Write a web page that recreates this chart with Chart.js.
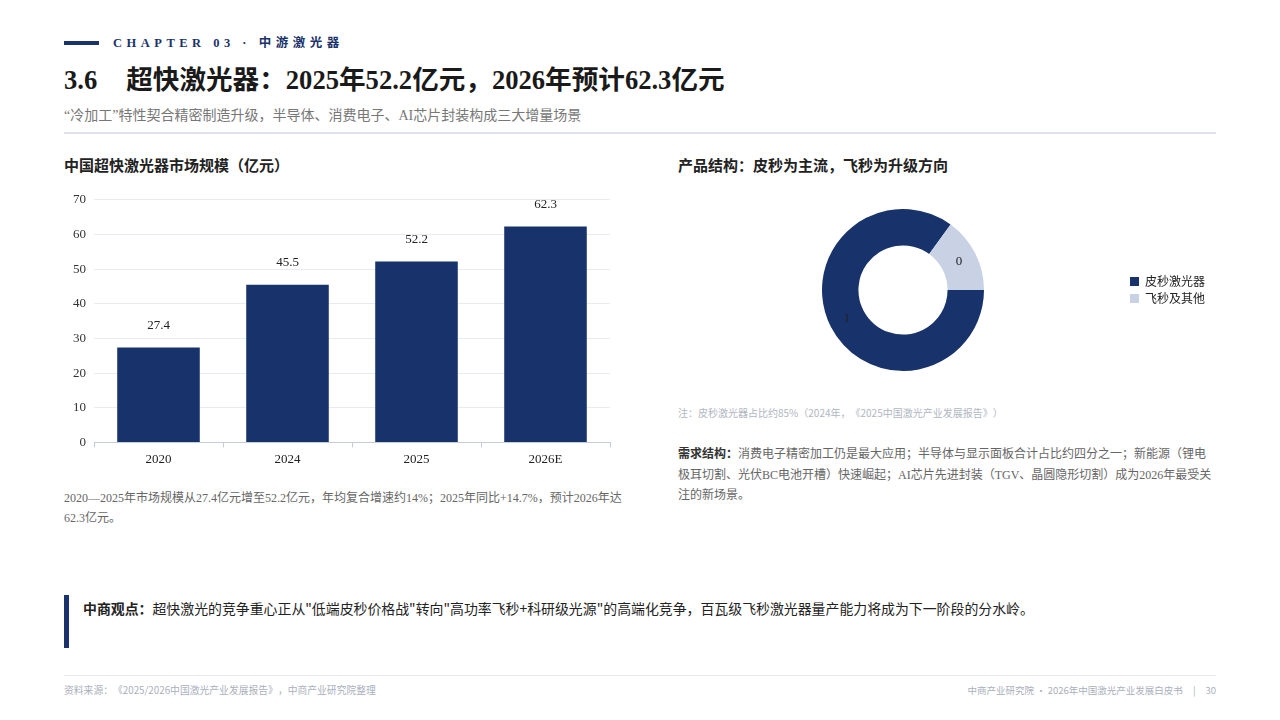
<!DOCTYPE html>
<html><head><meta charset="utf-8">
<script src="https://cdn.jsdelivr.net/npm/chart.js@4.4.1/dist/chart.umd.min.js"></script>
<style>
html,body{margin:0;padding:0;background:#fff;}
body{width:1280px;height:720px;position:relative;overflow:hidden;font-family:"Liberation Serif","Noto Sans CJK SC",serif;color:#222;text-spacing-trim:space-all;}
.abs{position:absolute;white-space:nowrap;}
.sans{font-family:"Noto Sans CJK SC","Noto Sans",sans-serif;}
</style></head><body>
<div class="abs" style="left:64px;top:41px;width:35px;height:4px;background:#1a336b;"></div>
<div class="abs" style="left:113px;top:34px;font-size:12.5px;font-weight:bold;color:#1a336b;letter-spacing:4.5px;line-height:18px;">CHAPTER 03 · 中游激光器</div>
<div class="abs" style="left:64px;top:63px;font-size:26.6px;font-weight:bold;color:#1a1a1a;line-height:34px;">3.6<span style="display:inline-block;width:29px"></span>超快激光器：2025年52.2亿元，2026年预计62.3亿元</div>
<div class="abs" style="left:64px;top:106px;font-size:14px;color:#777;line-height:20px;">“冷加工”特性契合精密制造升级，半导体、消费电子、AI芯片封装构成三大增量场景</div>
<div class="abs" style="left:64px;top:132px;width:1152px;height:2px;background:#dde1ea;"></div>

<div class="abs sans" style="left:64px;top:155px;font-size:15px;font-weight:bold;color:#222;line-height:20px;">中国超快激光器市场规模（亿元）</div>
<div class="abs sans" style="left:678px;top:155px;font-size:15px;font-weight:bold;color:#222;line-height:20px;">产品结构：皮秒为主流，飞秒为升级方向</div>

<div class="abs" style="left:64px;top:184px;width:550px;height:287px;"><canvas id="bar"></canvas></div>
<div class="abs" style="left:681px;top:209px;width:534px;height:162px;"><canvas id="pie"></canvas></div>

<div class="abs" style="left:64px;top:488px;font-size:12px;color:#666;line-height:20px;">2020—2025年市场规模从27.4亿元增至52.2亿元，年均复合增速约14%；2025年同比+14.7%，预计2026年达<br>62.3亿元。</div>

<div class="abs sans" style="left:678px;top:406px;font-size:10px;color:#b0b6c2;line-height:14px;">注：皮秒激光器占比约85%（2024年，《2025中国激光产业发展报告》）</div>
<div class="abs" style="left:678px;top:443px;font-size:12px;color:#666;line-height:20.5px;"><b style="color:#333" class="sans">需求结构：</b>消费电子精密加工仍是最大应用；半导体与显示面板合计占比约四分之一；新能源（锂电<br>极耳切割、光伏BC电池开槽）快速崛起；AI芯片先进封装（TGV、晶圆隐形切割）成为2026年最受关<br>注的新场景。</div>

<div class="abs" style="left:64px;top:595px;width:5px;height:53px;background:#1a336b;"></div>
<div class="abs sans" style="left:83px;top:598px;font-size:13.9px;color:#222;line-height:20px;"><b>中商观点：</b>超快激光的竞争重心正从"低端皮秒价格战"转向"高功率飞秒+科研级光源"的高端化竞争，百瓦级飞秒激光器量产能力将成为下一阶段的分水岭。</div>

<div class="abs" style="left:64px;top:675px;width:1152px;height:1px;background:#e6e8ee;"></div>
<div class="abs sans" style="left:64px;top:683px;font-size:9.8px;color:#aab0bc;line-height:14px;">资料来源：《2025/2026中国激光产业发展报告》，中商产业研究院整理</div>
<div class="abs sans" style="right:64px;top:683px;font-size:9.5px;color:#aab0bc;line-height:14px;">中商产业研究院 · 2026年中国激光产业发展白皮书<span style="display:inline-block;width:10px"></span>|<span style="display:inline-block;width:10px"></span>30</div>

<script>
const years = ["2020", "2024", "2025", "2026E"];
const marketSize = [27.4, 45.5, 52.2, 62.3];
const yTicks = [0, 10, 20, 30, 40, 50, 60, 70];
const productLabels = ["皮秒激光器", "飞秒及其他"];
const productShare = [0.85, 0.15];

const NAVY = "#18336b";
const LIGHT = "#c8d2e4";

const barLabels = {
  id: "barLabels",
  afterDatasetsDraw(chart) {
    const ctx = chart.ctx;
    const meta = chart.getDatasetMeta(0);
    ctx.save();
    ctx.font = "13px 'Liberation Serif'";
    ctx.fillStyle = "#222";
    ctx.textAlign = "center";
    ctx.textBaseline = "middle";
    meta.data.forEach((el, i) => {
      ctx.fillText(chart.data.datasets[0].data[i].toFixed(1), el.x, el.y - 22);
    });
    ctx.restore();
  }
};

new Chart(document.getElementById("bar"), {
  type: "bar",
  data: { labels: years, datasets: [{ data: marketSize, backgroundColor: NAVY, categoryPercentage: 0.8, barPercentage: 0.8 }] },
  options: {
    responsive: true, maintainAspectRatio: false, animation: false,
    layout: { padding: { right: 4, top: 0 } },
    plugins: { legend: { display: false }, tooltip: { enabled: false } },
    scales: {
      x: {
        grid: { display: true, drawOnChartArea: false, drawTicks: true, tickLength: 5, color: "#c5ccd6", offset: true },
        border: { display: true, color: "#c5ccd6" },
        ticks: { color: "#222", font: { family: "Liberation Serif", size: 13 }, padding: 4 }
      },
      y: {
        min: 0, max: 70,
        afterBuildTicks(scale) { scale.ticks = yTicks.map(v => ({ value: v })); },
        afterFit(scale) { scale.width = 30; },
        grid: { color: "#e8ebf0", drawTicks: false },
        border: { display: false },
        ticks: { color: "#333", font: { family: "Liberation Serif", size: 13 }, padding: 8 }
      }
    }
  },
  plugins: [barLabels]
});

const arcLabels = {
  id: "arcLabels",
  afterDatasetsDraw(chart) {
    const ctx = chart.ctx;
    const meta = chart.getDatasetMeta(0);
    ctx.save();
    ctx.font = "13px 'Liberation Serif'";
    ctx.fillStyle = "#222";
    ctx.textAlign = "center";
    ctx.textBaseline = "middle";
    meta.data.forEach((el, i) => {
      const p = el.getCenterPoint();
      ctx.fillText(Math.round(chart.data.datasets[0].data[i]).toString(), p.x, p.y);
    });
    ctx.restore();
  }
};

new Chart(document.getElementById("pie"), {
  type: "doughnut",
  data: { labels: productLabels, datasets: [{ data: productShare, backgroundColor: [NAVY, LIGHT], borderWidth: 0 }] },
  options: {
    responsive: true, maintainAspectRatio: false, animation: false,
    cutout: "55%", rotation: 90,
    plugins: {
      tooltip: { enabled: false },
      legend: {
        position: "right",
        labels: { boxWidth: 9, boxHeight: 9, padding: 5, color: "#222", font: { family: "Noto Sans CJK SC", size: 12 } }
      }
    }
  },
  plugins: [arcLabels]
});
</script>
</body></html>
